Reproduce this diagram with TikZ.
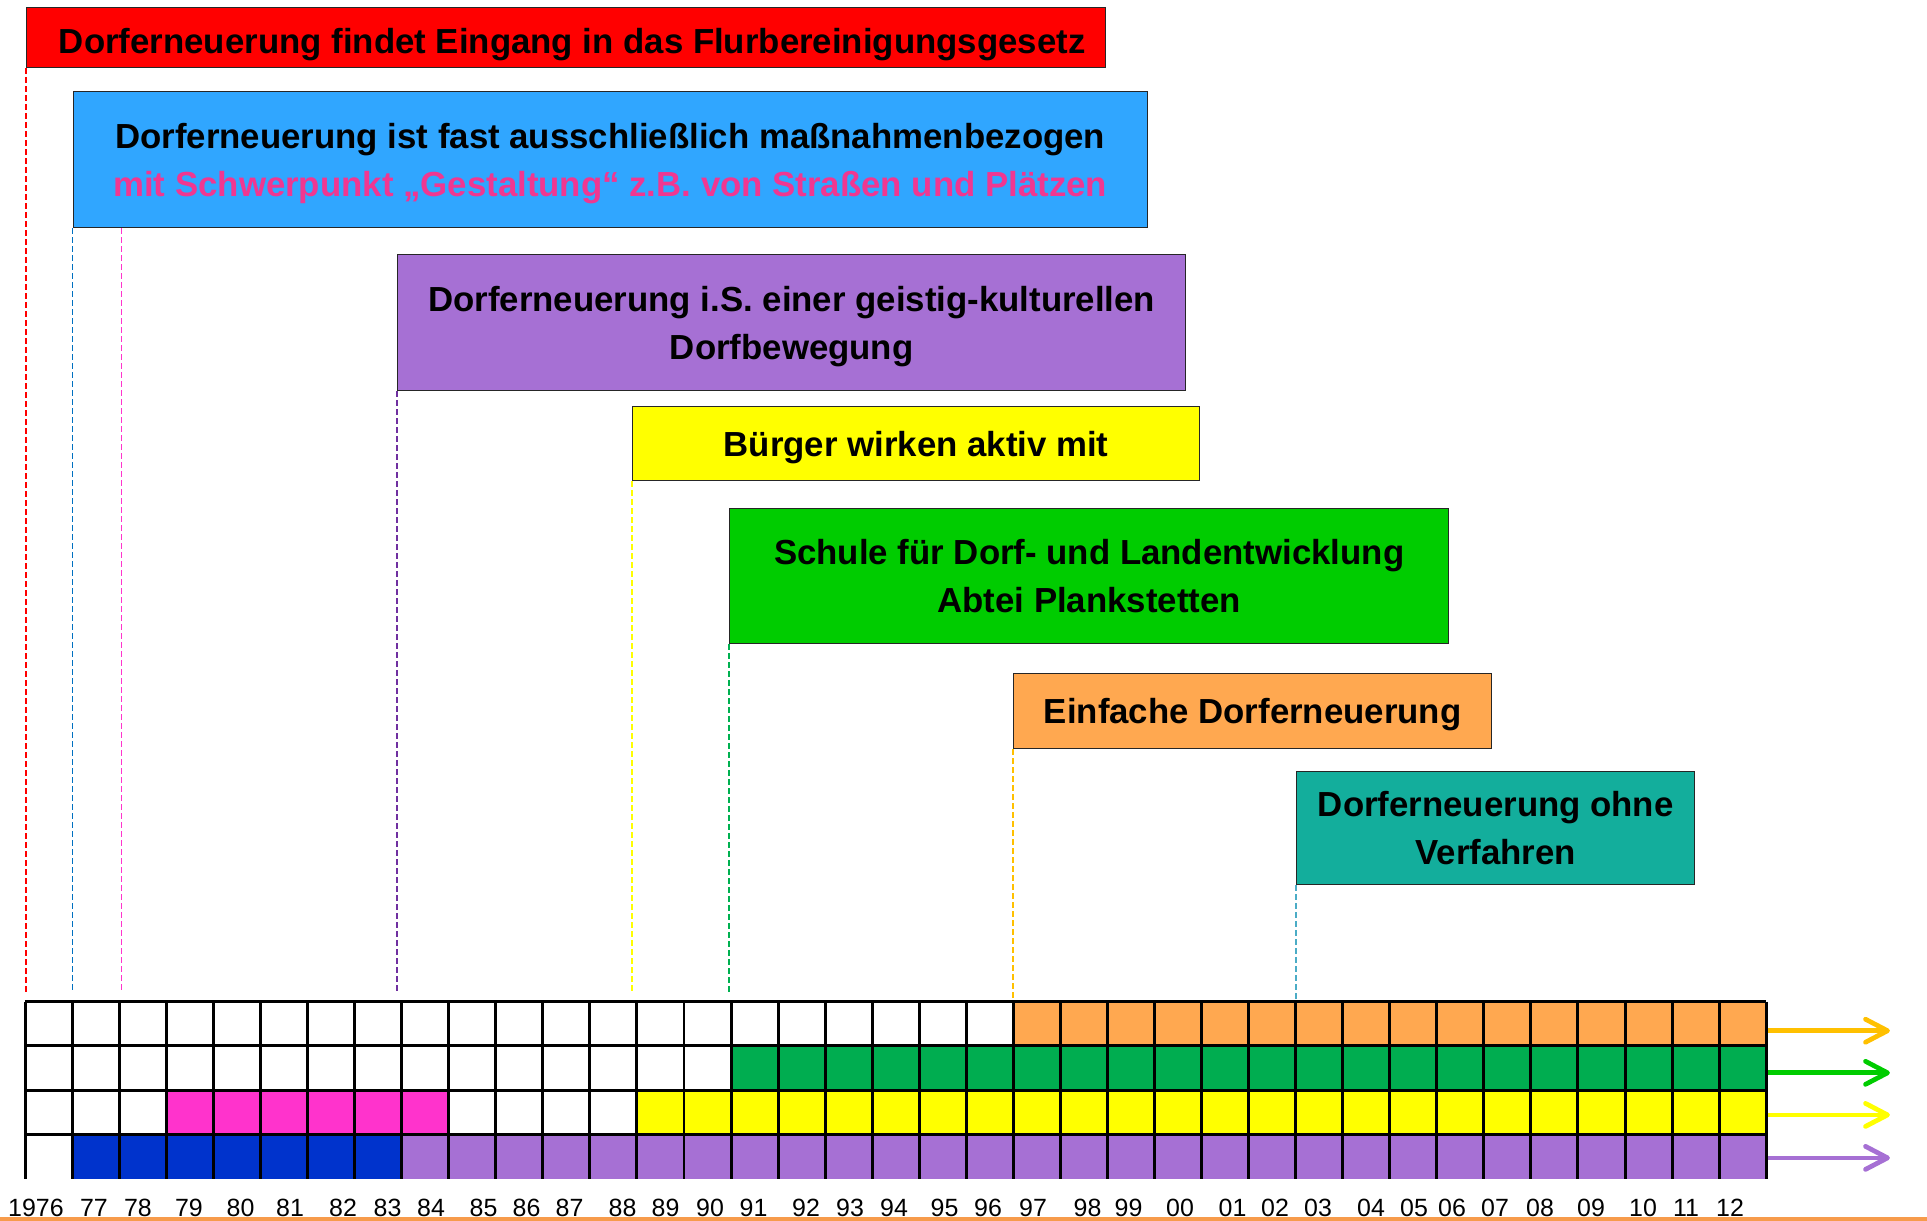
\documentclass[tikz,border=0pt]{standalone}
\usepackage{fontspec}
\setmainfont{Liberation Sans}
\usepackage{xcolor}
\usepackage{tikz}
\usetikzlibrary{arrows.meta}

\definecolor{boxred}{RGB}{255,0,0}
\definecolor{boxblue}{RGB}{48,166,255}
\definecolor{boxpurple}{RGB}{166,112,212}
\definecolor{boxyellow}{RGB}{255,255,0}
\definecolor{boxgreen}{RGB}{0,204,0}
\definecolor{boxorange}{RGB}{255,168,80}
\definecolor{boxteal}{RGB}{19,174,156}
\definecolor{textpink}{RGB}{240,55,145}
\definecolor{cellgreen}{RGB}{0,173,80}
\definecolor{cellpink}{RGB}{255,51,204}
\definecolor{cellblue}{RGB}{0,51,204}
\definecolor{arroworange}{RGB}{255,192,0}
\definecolor{guideblue}{RGB}{0,112,192}
\definecolor{guidepurple}{RGB}{112,48,160}
\definecolor{guidegreen}{RGB}{0,176,80}
\definecolor{guideteal}{RGB}{75,172,198}
\definecolor{baseorange}{RGB}{247,155,75}

\begin{document}
\begin{tikzpicture}[
  x=0.1mm, y=-0.1mm,
  phase/.style={
    rectangle, draw=black!85, line width=0.4pt,
    anchor=north west, inner sep=0pt,
    align=center, text depth=0pt,
    font=\fontsize{9.9}{13.6}\selectfont\bfseries
  },
  guide/.style={line width=0.45pt, dash pattern=on 0.6mm off 0.3mm},
  gridline/.style={line width=0.85pt, black},
  trend/.style={line width=1.35pt, -{Straight Barb[length=2.2mm, width=2.3mm, round]}},
  year/.style={font=\fontsize{7.1}{8}\selectfont, inner sep=0pt}
]
\useasboundingbox (0,0) rectangle (1927,1221);

\node[phase, fill=boxred, minimum width=107.9mm, minimum height=6mm, text height=9.2pt] (flurb) at (26,7)
  {\hspace*{1.2mm}Dorferneuerung findet Eingang in das Flurbereinigungsgesetz};
\node[phase, fill=boxblue, minimum width=107.4mm, minimum height=13.6mm] (massn) at (72.5,91)
  {Dorferneuerung ist fast ausschließlich maßnahmenbezogen\\
   \textcolor{textpink}{mit Schwerpunkt „Gestaltung“ z.B. von Straßen und Plätzen}};
\node[phase, fill=boxpurple, minimum width=78.8mm, minimum height=13.6mm] (geist) at (397,254)
  {Dorferneuerung i.S. einer geistig-kulturellen\\Dorfbewegung};
\node[phase, fill=boxyellow, minimum width=56.7mm, minimum height=7.4mm] (buerger) at (632,406)
  {Bürger wirken aktiv mit};
\node[phase, fill=boxgreen, minimum width=71.9mm, minimum height=13.5mm] (schule) at (729,508)
  {Schule für Dorf- und Landentwicklung\\Abtei Plankstetten};
\node[phase, fill=boxorange, minimum width=47.8mm, minimum height=7.5mm] (einfach) at (1013,673)
  {Einfache Dorferneuerung};
\node[phase, fill=boxteal, minimum width=39.8mm, minimum height=11.3mm] (ohne) at (1296,771)
  {Dorferneuerung ohne\\Verfahren};

% Hilfslinien bis zur Zeitleiste
\coordinate (stop) at (0,993);
\coordinate (gridtop) at (0,1001.5);
\coordinate (pinkx) at (121.5,0);
\draw[guide, boxred] (flurb.south west) -- (flurb.south west |- stop);
\draw[guide, guideblue] (massn.south west) -- (massn.south west |- stop);
\draw[guide, cellpink] (pinkx |- massn.south) -- (pinkx |- stop);
\draw[guide, guidepurple] (geist.south west) -- (geist.south west |- stop);
\draw[guide, boxyellow] (buerger.south west) -- (buerger.south west |- stop);
\draw[guide, guidegreen] (schule.south west) -- (schule.south west |- stop);
\draw[guide, arroworange] (einfach.south west) -- (einfach.south west |- gridtop);
\draw[guide, guideteal] (ohne.south west) -- (ohne.south west |- gridtop);

\begin{scope}[shift={(25.3,1001.5)}, x=4.705mm, y=-4.43mm]
  \fill[boxorange] (21,0) rectangle (37,1);
  \fill[cellgreen] (15,1) rectangle (37,2);
  \fill[cellpink] (3,2) rectangle (9,3);
  \fill[boxyellow] (13,2) rectangle (37,3);
  \fill[cellblue] (1,3) rectangle (8,4);
  \fill[boxpurple] (8,3) rectangle (37,4);
  \foreach \r in {0,...,3}
    \draw[gridline] (0,\r) -- (37,\r);
  \foreach \c in {0,...,37}
    \draw[gridline] (\c,0) -- (\c,4);
  \foreach \y/\col [count=\i] in {0.66/arroworange, 1.61/boxgreen, 2.56/boxyellow, 3.53/boxpurple} {
    \coordinate (from\i) at (37.04,\y);
    \coordinate (to\i) at (39.63,\y);
    \draw[trend, \col] (from\i) -- (to\i);
  }
\end{scope}

\foreach \lab/\px in {1976/36, 77/94, 78/138, 79/189, 80/240.5, 81/290, 82/343, 83/387.5,
  84/431, 85/483.5, 86/526.5, 87/569.5, 88/622.5, 89/665.5, 90/710, 91/753.5, 92/806,
  93/850, 94/894, 95/944.5, 96/988, 97/1033, 98/1087.5, 99/1128.5, 00/1180, 01/1232.5,
  02/1275, 03/1318, 04/1371, 05/1414, 06/1452, 07/1495, 08/1540, 09/1591, 10/1643,
  11/1686, 12/1730}
  \node[year] (yr\lab) at (\px,1208) {\lab};

\draw[line width=0.4mm, baseorange] (0,1219) -- (1927,1219);
\end{tikzpicture}
\end{document}
